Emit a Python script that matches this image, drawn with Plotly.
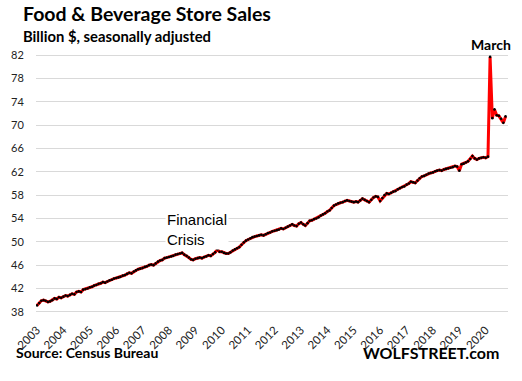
import plotly.graph_objects as go
import pandas as pd

# Monthly sales, billion $, seasonally adjusted (Jan 2003 - Oct 2020)
start_month = "2003-01-01"
v2003 = [39.1, 39.5, 39.9, 40.0, 39.9, 39.7, 39.8, 40.0, 40.3, 40.2, 40.5, 40.4]
v2004 = [40.6, 40.8, 40.7, 40.9, 41.1, 41.0, 41.4, 41.5, 41.4, 41.8, 41.9, 42.0]
v2005 = [42.2, 42.3, 42.5, 42.6, 42.8, 42.9, 43.1, 43.0, 43.2, 43.4, 43.5, 43.7]
v2006 = [43.8, 43.9, 44.0, 44.2, 44.3, 44.5, 44.7, 44.6, 44.9, 45.1, 45.3, 45.4]
v2007 = [45.5, 45.7, 45.8, 46.0, 46.1, 46.0, 46.3, 46.6, 46.8, 46.9, 47.2, 47.3]
v2008 = [47.4, 47.5, 47.6, 47.8, 47.9, 48.0, 48.1, 47.8, 47.6, 47.3, 47.0, 46.9]
v2009 = [47.1, 47.2, 47.3, 47.2, 47.4, 47.5, 47.7, 47.6, 47.9, 48.2, 48.7, 48.3]
v2010 = [48.3, 48.1, 48.0, 48.0, 48.2, 48.5, 48.7, 48.9, 49.1, 49.5, 49.9, 50.2]
v2011 = [50.4, 50.6, 50.8, 50.9, 51.0, 51.1, 51.2, 51.1, 51.3, 51.5, 51.6, 51.8]
v2012 = [51.9, 52.0, 52.1, 52.3, 52.2, 52.4, 52.6, 52.8, 53.0, 52.8, 52.7, 53.1]
v2013 = [53.3, 53.0, 52.8, 53.2, 53.6, 53.7, 53.9, 54.0, 54.2, 54.5, 54.7, 54.9]
v2014 = [55.2, 55.4, 55.8, 56.2, 56.4, 56.6, 56.7, 56.8, 57.0, 57.1, 57.0, 56.9]
v2015 = [56.8, 56.9, 56.8, 57.1, 57.4, 57.2, 57.0, 56.8, 57.2, 57.6, 57.8, 57.7]
v2016 = [57.0, 57.5, 58.0, 58.3, 58.2, 58.4, 58.6, 58.7, 59.0, 59.2, 59.4, 59.5]
v2017 = [59.8, 60.0, 60.3, 60.2, 60.1, 60.5, 60.9, 61.2, 61.3, 61.5, 61.7, 61.8]
v2018 = [61.9, 62.1, 62.2, 62.3, 62.2, 62.4, 62.5, 62.6, 62.7, 62.8, 63.0, 62.9]
v2019 = [62.2, 63.3, 63.4, 63.6, 63.8, 64.2, 64.7, 64.3, 64.1, 64.3, 64.4, 64.5]
v2020 = [64.4, 64.6, 81.7, 71.2, 72.7, 71.7, 71.6, 71.1, 70.4, 71.5]

sales = (v2003 + v2004 + v2005 + v2006 + v2007 + v2008 + v2009 + v2010 + v2011
         + v2012 + v2013 + v2014 + v2015 + v2016 + v2017 + v2018 + v2019 + v2020)
months = pd.date_range(start_month, periods=len(sales), freq="MS")

year_labels = [str(y) for y in range(2003, 2021)]
year_ticks = [f"{y}-01-01" for y in year_labels]
y_ticks = [38, 42, 46, 50, 54, 58, 62, 66, 70, 74, 78, 82]

W, H = 522, 381
ML, MR, MT, MB = 36, 14, 54, 68
PW, PH = W - ML - MR, H - MT - MB

def px(x):
    return (x - ML) / PW

def py(y):
    return (H - MB - y) / PH

fig = go.Figure()
fig.add_trace(go.Scatter(
    x=months, y=sales, mode="lines+markers",
    line=dict(color="#ff0000", width=3),
    marker=dict(color="#000000", size=2.6),
    showlegend=False, hoverinfo="skip",
))

ann_font = "Lato, 'Open Sans', sans-serif"
annotations = [
    dict(text="<b>Food & Beverage Store Sales</b>", xref="paper", yref="paper",
         x=px(21), y=py(13.5), xanchor="left", yanchor="middle", showarrow=False,
         font=dict(family=ann_font, size=19.5, color="#000000")),
    dict(text="<b>Billion $, seasonally adjusted</b>", xref="paper", yref="paper",
         x=px(21), y=py(35.5), xanchor="left", yanchor="middle", showarrow=False,
         font=dict(family=ann_font, size=14.8, color="#000000")),
    dict(text="<b>Source: Census Bureau</b>", xref="paper", yref="paper",
         x=px(14), y=py(352), xanchor="left", yanchor="middle", showarrow=False,
         font=dict(family=ann_font, size=14, color="#000000")),
    dict(text="<b>WOLFSTREET.com</b>", xref="paper", yref="paper",
         x=px(501), y=py(352), xanchor="right", yanchor="middle", showarrow=False,
         font=dict(family=ann_font, size=16, color="#000000")),
    dict(text="<b>March</b>", xref="paper", yref="paper",
         x=px(491), y=py(44), xanchor="center", yanchor="middle", showarrow=False,
         font=dict(family=ann_font, size=14, color="#000000")),
    dict(text="Financial<br>Crisis", xref="paper", yref="paper", align="left",
         x=px(165), y=py(229), xanchor="left", yanchor="middle", showarrow=False,
         bgcolor="white", borderpad=1,
         font=dict(family="'Liberation Sans', Arial, sans-serif", size=15, color="#000000")),
]

fig.update_layout(
    width=W, height=H,
    margin=dict(l=ML, r=MR, t=MT, b=MB, autoexpand=False),
    paper_bgcolor="white", plot_bgcolor="white",
    xaxis=dict(
        type="date", range=["2002-12-18", "2020-11-04"],
        tickmode="array", tickvals=year_ticks, ticktext=year_labels,
        tickangle=-45, showgrid=False, zeroline=False, showline=False,
        ticks="outside", ticklen=5, tickcolor="rgba(0,0,0,0)",
        tickfont=dict(family=ann_font, size=11.5, color="#222222"),
    ),
    yaxis=dict(
        range=[37.8, 82.2], tickvals=y_ticks,
        showgrid=True, gridcolor="#d9d9d9", gridwidth=1,
        zeroline=False, showline=False,
        ticks="outside", ticklen=9, tickcolor="rgba(0,0,0,0)",
        tickfont=dict(family=ann_font, size=11, color="#222222"),
    ),
    annotations=annotations,
)

fig.write_html("out.html", config={"displayModeBar": False},
               post_script="document.body.style.margin='0';")
